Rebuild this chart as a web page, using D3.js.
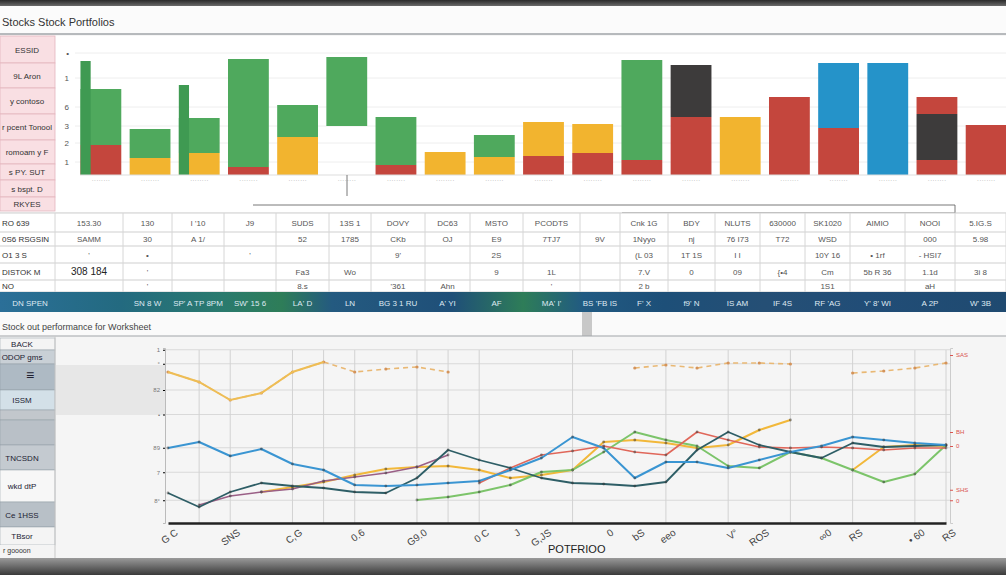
<!DOCTYPE html>
<html><head><meta charset="utf-8">
<script src="https://cdn.jsdelivr.net/npm/d3@7/dist/d3.min.js"></script>
<style>body{margin:0;background:#fff;}svg{display:block;font-family:"Liberation Sans",Arial,sans-serif;}</style>
</head><body><svg id="c" width="1006" height="575"></svg>
<script>
// ---------- DATA ----------
const title1 = "Stocks Stock Portfolios";
const title2 = "Stock out performance for Worksheet";
const sideLabels1 = ["ESSID","9L Aron","y contoso","r pcent Tonool","romoam y F","s PY. SUT","s bspt. D","RKYES"];
const barCats = ["B1","B2","B3","B4","B5","B6","B7","B8","B9","B10","B11","B12","B13","B14","B15","B16","B17","B18","B19"];
const barGap    = [0,0,0,0,0,49,0,0,0,0,0,0,0,0,0,0,0,0,0];
const barRed    = [30,0,0,8,0,0,10,0,0,19,22,15,58,0,78,47,0,15,50];
const barOrange = [0,17,22,0,38,0,0,23,18,34,29,0,0,58,0,0,0,0,0];
const barGreen  = [56,29,35,108,32,69,48,0,22,0,0,100,0,0,0,0,0,0,0];
const barDark   = [0,0,0,0,0,0,0,0,0,0,0,0,52,0,0,0,0,46,0];
const barBlue   = [0,0,0,0,0,0,0,0,0,0,0,0,0,0,0,65,112,0,0];
const barRed2   = [0,0,0,0,0,0,0,0,0,0,0,0,0,0,0,0,0,17,0];
const barSpike  = [114,null,90,null,null,null,null,null,null,null,null,null,null,null,null,null,null,null,null];
const barTicks  = [13,32,49,68,97,122];
const barTickLabels = ["1","2","3","6","1","\u2022"];

const tableRowLabels = ["RO 639","0S6 RSGSIN","O1 3 S","DISTOK M","NO"];
const tableRows = [
 ["153.30","130","l \u201910","J9","SUDS","13S 1","DOVY","DC63","MSTO","PCODTS","","Cnk 1G","BDY","NLUTS","630000","SK1020","AIMIO","NOOI","5.IG.S"],
 ["SAMM","30","A  1/","","52","1785","CKb","OJ","E9","7TJ7","9V","1Nyyo","nj","76 I73","T72","WSD","","000","5.98"],
 ["'","\u2022","","'","","","9'","","2S","","","(L 03","1T 1S","I  I","","10Y 16","\u2022 1rf","- HSI7",""],
 ["308 184","'","","","Fa3","Wo","","","9","1L","","7.V","0","09","{\u20224","Cm","5b R 36","1.1d","3i 8"],
 ["","'","","","8.s","","'361","Ahn","","'","","2 b","","","","1S1","","aH",""]
];
const bandLabels = ["DN  SPEN","SN 8  W","SP' A  TP 8PM","SW' 15 6","LA' D","LN","BG 3 1 RU","A' YI","AF","MA' I'","BS 'FB IS","F' X","f9' N","IS  AM","IF 4S","RF 'AG","Y' 8' WI","A 2P","W' 3B"];

const sideLabels2 = ["BACK","ODOP gms","\u2261","ISSM","","","TNCSDN","wkd dtP","Ce   1HSS","TBsor"];
const lineCats = ["G C","","SNS","","C,G","","0.6","","G9.0","","0 C","J","G,JS","","0","bS","eeo","","V\u00b0","ROS","","\u221e0","RS","","\u2022 60","RS"];
const sOrange = [372,382,400,393,372,362,372,369,367,372,null,null,null,null,null,368,365,368,363,363,364,null,373,371,368,363];
const sBlue   = [448,442,456,449,464,470,485,486,485,483,481,470,458,437,448,478,462,462,468,460,452,446,437,440,443,445];
const sTeal   = [493,507,492,483,486,488,492,493,478,450,460,468,478,483,484,486,482,450,432,445,452,458,443,447,446,445];
const sPurple = [null,505,496,492,489,481,477,473,467,455,null,null,null,null,null,null,null,null,null,null,null,null,null,null,null,null];
const sRed    = [null,null,null,null,null,null,null,null,null,null,483,468,455,451,446,452,455,432,440,447,448,447,448,450,448,448];
const sYellow = [null,null,null,492,487,482,475,469,467,466,470,478,475,470,442,440,443,448,445,430,420,null,470,447,445,446];
const sGreen  = [null,null,null,null,null,null,null,null,500,497,492,485,472,470,452,432,440,446,466,468,452,458,470,482,474,445];
const lineGridIdx = [1,2,4,5,6,8,9,10,13,16,18,20,22,24,25];
const lineTicks = [13,29,43,62,76,91,99];
const lineTickLabels = ["8\u00b0","7","89","\u2022","82","\u00b0","1"];
const rightTicks = [96,52,44,19,13];
const rightTickLabels = ["SAS","BH","0","SHS","0"];

// ---------- DRAW ----------
const svg = d3.select("#c");
const defs = svg.append("defs");
const g1 = defs.append("linearGradient").attr("id","bez").attr("x1",0).attr("x2",0).attr("y1",0).attr("y2",1);
g1.append("stop").attr("offset","0%").attr("stop-color","#2a2a2a");
g1.append("stop").attr("offset","100%").attr("stop-color","#6a6a6a");
const g2 = defs.append("linearGradient").attr("id","band");
[["0%","#2b6f98"],["12%","#236a80"],["22%","#2a7a6e"],["28%","#2e7d58"],["33%","#245a80"],["45%","#1f4f78"],["52%","#2e7d58"],["58%","#215a82"],["66%","#1d4f78"],["76%","#254f75"],["86%","#214d77"],["100%","#1f4a70"]]
 .forEach(s=>g2.append("stop").attr("offset",s[0]).attr("stop-color",s[1]));
const g3 = defs.append("linearGradient").attr("id","bot").attr("x1",0).attr("x2",0).attr("y1",0).attr("y2",1);
g3.append("stop").attr("offset","0%").attr("stop-color","#9a9a9a");
g3.append("stop").attr("offset","100%").attr("stop-color","#3a3a3a");

svg.append("rect").attr("width",1006).attr("height",575).attr("fill","#f6f6f6");
svg.append("rect").attr("width",1006).attr("height",6).attr("fill","url(#bez)");
svg.append("rect").attr("y",6).attr("width",1006).attr("height",28).attr("fill","#fbfbfb");
svg.append("text").attr("x",2).attr("y",26).attr("font-size",11).attr("fill","#333").text(title1);
svg.append("line").attr("x1",0).attr("x2",1006).attr("y1",34).attr("y2",34).attr("stroke","#a0a4a8").attr("stroke-width",1.5);

// top sidebar
svg.append("rect").attr("x",0).attr("y",36).attr("width",1006).attr("height",176).attr("fill","#fff");
const sideY1 = [36,63,88,114,140,164,180,197,211];
sideLabels1.forEach((t,i)=>{
  svg.append("rect").attr("x",0).attr("y",sideY1[i]).attr("width",55).attr("height",sideY1[i+1]-sideY1[i])
    .attr("fill","#f9dfe3").attr("stroke","#e4b5bd").attr("stroke-width",0.8);
  svg.append("text").attr("x",27).attr("y",(sideY1[i]+sideY1[i+1])/2+3).attr("text-anchor","middle")
    .attr("font-size",8).attr("fill","#333").text(t);
});

// bar chart
const x = d3.scaleBand().domain(barCats).range([78,1009]).paddingInner(0.17).paddingOuter(0.05);
const y = d3.scaleLinear().domain([0,120]).range([175,55]);
const gridG = svg.append("g");
barTicks.forEach(v=>gridG.append("line").attr("x1",75).attr("x2",1006).attr("y1",y(v)).attr("y2",y(v)).attr("stroke","#eeeeee"));
const yAx = svg.append("g").attr("transform","translate(72,0)")
  .call(d3.axisLeft(y).tickValues(barTicks).tickFormat((d,i)=>barTickLabels[i]).tickSize(0));
yAx.select(".domain").remove();
yAx.selectAll("text").attr("font-size",8).attr("fill","#555");

const keys = ["gap","red","orange","green","dark","blue","red2"];
const colors = {gap:"none",red:"#c4463d",orange:"#f2b42f",green:"#4fa95d",dark:"#3d3b3b",blue:"#2593c9",red2:"#c4463d"};
const rows = barCats.map((c,i)=>({cat:c,gap:barGap[i],red:barRed[i],orange:barOrange[i],green:barGreen[i],dark:barDark[i],blue:barBlue[i],red2:barRed2[i]}));
const stack = d3.stack().keys(keys)(rows);
svg.append("g").selectAll("g").data(stack).join("g").attr("fill",d=>colors[d.key])
  .selectAll("rect").data(d=>d).join("rect")
  .attr("x",d=>x(d.data.cat)).attr("width",x.bandwidth())
  .attr("y",d=>y(d[1])).attr("height",d=>y(d[0])-y(d[1]));
svg.append("g").selectAll("rect").data(barSpike.map((v,i)=>({v,c:barCats[i]})).filter(d=>d.v!=null)).join("rect")
  .attr("x",d=>x(d.c)).attr("width",x.bandwidth()*0.25).attr("y",d=>y(d.v)).attr("height",d=>y(0)-y(d.v)).attr("fill","#3f9a52");
svg.append("line").attr("x1",80).attr("x2",1006).attr("y1",y(0)).attr("y2",y(0)).attr("stroke","#ddd");
const bx = svg.append("g").attr("transform",`translate(0,${y(0)})`).call(d3.axisBottom(x).tickSize(0).tickFormat(()=>"\u00b7\u00b7\u00b7\u00b7\u00b7\u00b7\u00b7\u00b7"));
bx.select(".domain").remove(); bx.selectAll("text").attr("font-size",7).attr("fill","#bbb");
// connector lines
svg.append("path").attr("d","M347,175V196M253,205H955V220M622,213H955").attr("stroke","#555").attr("fill","none").attr("stroke-width",0.8);

// table
const colX = [55,123,172,224,276,329,371,425,470,523,580,620,668,715,760,805,850,905,955,1006];
const rowY = [213,232,246,263,280,292];
svg.append("rect").attr("x",0).attr("y",213).attr("width",1006).attr("height",79).attr("fill","#fff");
rowY.forEach(v=>svg.append("line").attr("x1",0).attr("x2",1006).attr("y1",v).attr("y2",v).attr("stroke","#cfcfcf"));
colX.forEach(v=>svg.append("line").attr("x1",v).attr("x2",v).attr("y1",213).attr("y2",292).attr("stroke","#d6d6d6"));
tableRows.forEach((r,ri)=>{
  svg.append("text").attr("x",2).attr("y",(rowY[ri]+rowY[ri+1])/2+3).attr("font-size",8).attr("fill","#333").text(tableRowLabels[ri]);
  r.forEach((t,ci)=>svg.append("text").attr("x",(colX[ci]+colX[ci+1])/2).attr("y",(rowY[ri]+rowY[ri+1])/2+3)
    .attr("text-anchor","middle").attr("font-size",ri===3&&ci===0?10:8).attr("fill",ri===3&&ci===0?"#222":"#555").text(t));
});
svg.append("rect").attr("x",0).attr("y",292).attr("width",1006).attr("height",20).attr("fill","url(#band)");
bandLabels.forEach((t,i)=>svg.append("text").attr("x",i===0?30:(colX[i]+colX[i+1])/2).attr("y",306).attr("text-anchor","middle")
  .attr("font-size",8).attr("fill","#dfe9f2").text(t));
svg.append("rect").attr("x",0).attr("y",312).attr("width",1006).attr("height",24).attr("fill","#fafafa");
svg.append("rect").attr("x",582).attr("y",312).attr("width",10).attr("height",24).attr("fill","#c8c8c8");
svg.append("text").attr("x",2).attr("y",330).attr("font-size",9).attr("fill","#444").text(title2);
svg.append("line").attr("x1",0).attr("x2",1006).attr("y1",336).attr("y2",336).attr("stroke","#a0a4a8").attr("stroke-width",1.2);

// bottom sidebar
const sideY2 = [338,350,364,390,410,420,445,470,502,527,545];
const sideFill2 = ["#f4f4f4","#c9d0d6","#aebac4","#d3e0e8","#c2c7cc","#b9c0c7","#c4cad0","#f7f7f7","#b8c0c7","#f4f4f4"];
sideLabels2.forEach((t,i)=>{
  svg.append("rect").attr("x",0).attr("y",sideY2[i]).attr("width",55).attr("height",sideY2[i+1]-sideY2[i]).attr("fill",sideFill2[i]).attr("stroke","#8f9aa3").attr("stroke-width",0.5);
  svg.append("text").attr("x",t==="\u2261"?30:22).attr("y",(sideY2[i]+sideY2[i+1])/2+3).attr("text-anchor","middle").attr("font-size",t==="\u2261"?14:8).attr("fill","#223").text(t);
});
svg.append("rect").attr("x",0).attr("y",545).attr("width",55).attr("height",13).attr("fill","#f4f4f4");
svg.append("text").attr("x",3).attr("y",553).attr("font-size",7).attr("fill","#333").text("r goooon");
svg.append("line").attr("x1",55).attr("x2",55).attr("y1",336).attr("y2",558).attr("stroke","#c8c8c8");

// line chart
svg.append("rect").attr("x",56).attr("y",337).attr("width",950).attr("height",221).attr("fill","#f5f5f5");
svg.append("rect").attr("x",56).attr("y",365).attr("width",110).attr("height",50).attr("fill","#e7e7e7");
const lx = d3.scalePoint().domain(lineCats.map((d,i)=>i)).range([168,946]);
const ly = d3.scaleLinear().domain([0,100]).range([523,348]);
const pxToVal = p => p==null?null:ly.invert(p);
lineTicks.forEach(v=>svg.append("line").attr("x1",165).attr("x2",950).attr("y1",ly(v)).attr("y2",ly(v)).attr("stroke","#d9d9d9"));
lineGridIdx.forEach(i=>svg.append("line").attr("x1",lx(i)).attr("x2",lx(i)).attr("y1",350).attr("y2",523).attr("stroke","#d2d2d2"));
const la = svg.append("g").attr("transform","translate(165,0)").call(d3.axisLeft(ly).tickValues(lineTicks).tickFormat((d,i)=>lineTickLabels[i]).tickSize(2));
la.select(".domain").attr("stroke","#bbb"); la.selectAll("text").attr("font-size",6).attr("fill","#777");
const ra = svg.append("g").attr("transform","translate(950,0)").call(d3.axisRight(ly).tickValues(rightTicks).tickFormat((d,i)=>rightTickLabels[i]).tickSize(3));
ra.select(".domain").attr("stroke","#ccc"); ra.selectAll("text").attr("font-size",6).attr("fill","#d9534f"); ra.selectAll("line").attr("stroke","#d9534f");

const series = [
 {v:sYellow,c:"#f2b83a",w:2},
 {v:sGreen,c:"#7cc46a",w:2},
 {v:sRed,c:"#e0675a",w:1.6},
 {v:sPurple,c:"#9a5f86",w:1.6},
 {v:sTeal,c:"#2e5e66",w:1.8},
 {v:sBlue,c:"#3a95d2",w:2}
];
const line = d3.line().defined(d=>d!=null).x((d,i)=>lx(i)).y(d=>ly(d));
series.forEach(s=>{
  const vals = s.v.map(pxToVal);
  svg.append("path").datum(vals).attr("d",line).attr("fill","none").attr("stroke",s.c).attr("stroke-width",s.w).attr("stroke-linejoin","round");
  svg.append("g").selectAll("circle").data(vals.map((v,i)=>({v,i})).filter(d=>d.v!=null)).join("circle")
    .attr("cx",d=>lx(d.i)).attr("cy",d=>ly(d.v)).attr("r",1.4).attr("fill","#333").attr("opacity",0.5);
});
const oVals = sOrange.map(pxToVal);
svg.append("path").datum(oVals).attr("d",line).attr("fill","none").attr("stroke","#e9b874").attr("stroke-width",1.6).attr("stroke-dasharray","5,4");
svg.append("g").selectAll("circle").data(oVals.map((v,i)=>({v,i})).filter(d=>d.v!=null)).join("circle")
  .attr("cx",d=>lx(d.i)).attr("cy",d=>ly(d.v)).attr("r",1.6).attr("fill","#d4935a");
svg.append("path").datum(oVals.slice(0,6)).attr("d",line).attr("fill","none").attr("stroke","#eebd55").attr("stroke-width",2);

const xa = svg.append("g").attr("transform","translate(0,523)").call(d3.axisBottom(lx).tickFormat(i=>lineCats[i]).tickSize(0));
xa.select(".domain").attr("stroke","#222").attr("stroke-width",2.5);
xa.selectAll("text").attr("font-size",10).attr("fill","#444").attr("transform","rotate(-35)").attr("text-anchor","end").attr("dx","0.2em").attr("dy","1.2em");
svg.append("text").attr("x",548).attr("y",553).attr("font-size",11).attr("fill","#222").text("POTFRIOO");

svg.append("rect").attr("y",558).attr("width",1006).attr("height",17).attr("fill","url(#bot)");
</script></body></html>
